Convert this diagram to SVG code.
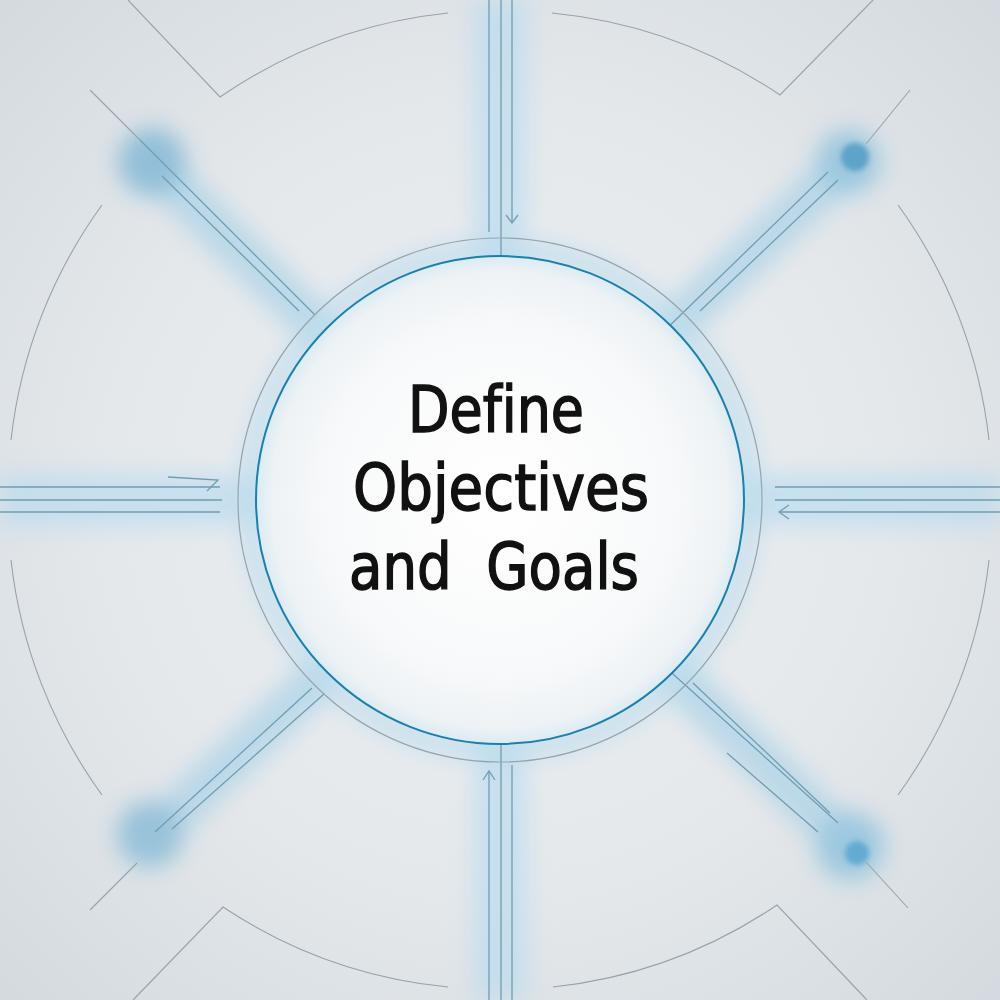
<svg xmlns="http://www.w3.org/2000/svg" width="1000" height="1000" viewBox="0 0 1000 1000">
<defs>
  <radialGradient id="bg" cx="500" cy="500" r="720" gradientUnits="userSpaceOnUse">
    <stop offset="0" stop-color="#eff1f3"/>
    <stop offset="0.55" stop-color="#e4e8eb"/>
    <stop offset="1" stop-color="#d3d9de"/>
  </radialGradient>
  <radialGradient id="core" cx="500" cy="500" r="246" gradientUnits="userSpaceOnUse">
    <stop offset="0" stop-color="#ffffff"/>
    <stop offset="0.7" stop-color="#f8f9fa"/>
    <stop offset="0.93" stop-color="#edf2f5"/>
    <stop offset="1" stop-color="#d8eaf3"/>
  </radialGradient>
  <filter id="blur" x="-50%" y="-50%" width="200%" height="200%"><feGaussianBlur stdDeviation="11"/></filter>
  <filter id="blurS" x="-50%" y="-50%" width="200%" height="200%"><feGaussianBlur stdDeviation="2.5"/></filter>
  <style>
    .ln{fill:none;stroke:#6f9db3;stroke-width:1.3;}
    .th{fill:none;stroke:#98a2ab;stroke-width:1.1;}
    .glow{stroke:#9fcde6;fill:none;stroke-linecap:round;}
    .lbl{font-family:'DejaVu Sans Condensed','DejaVu Sans',sans-serif;font-stretch:condensed;font-weight:normal;font-size:64px;fill:#111;stroke:#111;stroke-width:1.4;text-anchor:middle;font-variant-ligatures:none;}
  </style>
</defs>
<rect width="1000" height="1000" fill="url(#bg)"/>

<!-- glows -->
<g id="glows" filter="url(#blur)" opacity="0.8">
  <rect x="474" y="0" width="52" height="1000" fill="#b6daed" opacity="0.8"/>
  <rect x="0" y="474" width="1000" height="52" fill="#b6daed" opacity="0.8"/>
  <path class="glow" d="M150 162 L325 335 M850 160 L670 330 M150 838 L325 672 M855 853 L672 672" stroke-width="42" opacity="0.75"/>
  <circle cx="152" cy="162" r="34" fill="#7fb6d4"/>
  <circle cx="150" cy="834" r="33" fill="#86bad6"/>
  <circle cx="848" cy="162" r="32" fill="#8cc1dd"/>
  <circle cx="850" cy="846" r="34" fill="#8cc1dd"/>
  <circle cx="500" cy="500" r="250" fill="none" stroke="#b3daed" stroke-width="22" opacity="0.8"/>
</g>
<g id="dots">
  <circle cx="855" cy="157" r="14" fill="#5ea3c9" filter="url(#blurS)"/>
  <circle cx="857" cy="853" r="12" fill="#63abd3" filter="url(#blurS)"/>
</g>

<!-- outer frame arcs -->
<g id="frame" class="th">
  <path d="M128 0 L220 97 A493 493 0 0 1 448 13"/>
  <path d="M552 13 A493 493 0 0 1 780 95 L873 0"/>
  <path d="M898 205 A493 493 0 0 1 989 440"/>
  <path d="M989 560 A493 493 0 0 1 898 795"/>
  <path d="M102 205 A493 493 0 0 0 11 440"/>
  <path d="M11 560 A493 493 0 0 0 102 795"/>
  <path d="M133 1000 L223 907 A493 493 0 0 0 448 987"/>
  <path d="M867 1000 L777 905 A493 493 0 0 1 553 987"/>
</g>

<!-- connectors -->
<g id="connectors">
  <path class="ln" d="M489 0 V232 M501 0 V256 M512 0 V222"/>
  <path class="ln" d="M506 215 L512 223 L518 215"/>
  <path class="ln" d="M489 771 V1000 M501 744 V1000 M512 765 V1000"/>
  <path class="ln" d="M483 780 L489 771 L495 780"/>
  <path class="ln" d="M0 487 H220 M0 500 H222 M0 512 H220"/>
  <path class="ln" d="M168 477 L218 480 L207 491"/>
  <path class="ln" d="M775 487 H1000 M775 500 H1000 M779 512 H1000"/>
  <path class="ln" d="M789 505 L779 512 L789 519"/>
  <path class="th" d="M90 90 L140 140"/>
  <path class="ln" d="M140 140 L315 315 M162 176 L299 311"/>
  <path class="th" d="M910 90 L866 144"/>
  <path class="ln" d="M828 172 L660 335 M838 180 L700 311"/>
  <path class="th" d="M90 910 L137 863"/>
  <path class="ln" d="M155 832 L312 688 M172 829 L324 694"/>
  <path class="th" d="M866 862 L908 908"/>
  <path class="ln" d="M663 665 L838 823 M693 683 L830 813 M727 753 L818 832"/>
</g>

<!-- central node -->
<g id="node-center">
  <circle cx="500" cy="500" r="262" fill="none" stroke="#97a3ac" stroke-width="1.2"/>
  <circle cx="500" cy="500" r="244" fill="url(#core)" stroke="#1c7fae" stroke-width="2"/>
  <text class="lbl" x="496" y="432" textLength="176" lengthAdjust="spacingAndGlyphs">Define</text>
  <text class="lbl" x="501" y="510" textLength="296" lengthAdjust="spacingAndGlyphs">Objectives</text>
  <text class="lbl" x="494" y="589" textLength="290" lengthAdjust="spacingAndGlyphs" xml:space="preserve">and  Goals</text>
</g>
</svg>
